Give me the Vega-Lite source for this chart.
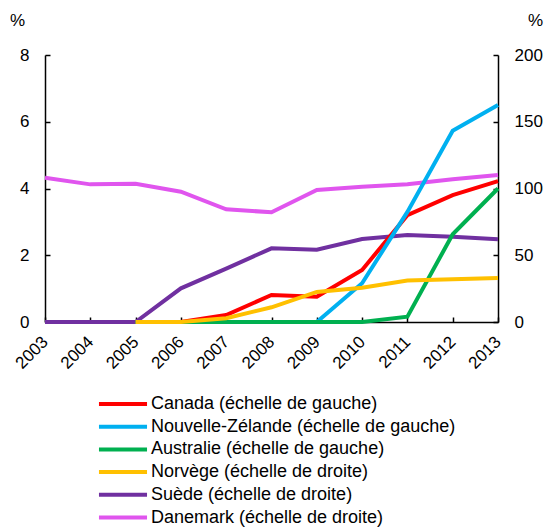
{
  "$schema": "https://vega.github.io/schema/vega-lite/v6.json",
  "width": 453,
  "height": 267,
  "autosize": "none",
  "padding": {"left": 45, "top": 55, "right": 48, "bottom": 205},
  "background": "white",
  "config": {
    "font": "Liberation Sans",
    "view": {"stroke": null},
    "axis": {
      "grid": false,
      "domainColor": "black",
      "domainWidth": 1.5,
      "tickColor": "black",
      "tickWidth": 1.5,
      "tickSize": -5,
      "labelColor": "black",
      "labelFontSize": 17,
      "labelFont": "Liberation Sans",
      "titleFont": "Liberation Sans",
      "titleFontSize": 17,
      "titleFontWeight": "normal",
      "titleColor": "black"
    },
    "legend": {
      "labelFont": "Liberation Sans",
      "labelFontSize": 18,
      "labelColor": "black",
      "labelLimit": 500
    }
  },
  "data": {
    "values": [
      {"year": "2005", "series": "Canada (échelle de gauche)", "side": "left", "value": 0},
      {"year": "2006", "series": "Canada (échelle de gauche)", "side": "left", "value": 0},
      {"year": "2007", "series": "Canada (échelle de gauche)", "side": "left", "value": 0.21},
      {"year": "2008", "series": "Canada (échelle de gauche)", "side": "left", "value": 0.81},
      {"year": "2009", "series": "Canada (échelle de gauche)", "side": "left", "value": 0.76},
      {"year": "2010", "series": "Canada (échelle de gauche)", "side": "left", "value": 1.56},
      {"year": "2011", "series": "Canada (échelle de gauche)", "side": "left", "value": 3.2},
      {"year": "2012", "series": "Canada (échelle de gauche)", "side": "left", "value": 3.8},
      {"year": "2013", "series": "Canada (échelle de gauche)", "side": "left", "value": 4.22},

      {"year": "2005", "series": "Nouvelle-Zélande (échelle de gauche)", "side": "left", "value": 0},
      {"year": "2006", "series": "Nouvelle-Zélande (échelle de gauche)", "side": "left", "value": 0},
      {"year": "2007", "series": "Nouvelle-Zélande (échelle de gauche)", "side": "left", "value": 0},
      {"year": "2008", "series": "Nouvelle-Zélande (échelle de gauche)", "side": "left", "value": 0},
      {"year": "2009", "series": "Nouvelle-Zélande (échelle de gauche)", "side": "left", "value": 0},
      {"year": "2010", "series": "Nouvelle-Zélande (échelle de gauche)", "side": "left", "value": 1.16},
      {"year": "2011", "series": "Nouvelle-Zélande (échelle de gauche)", "side": "left", "value": 3.3},
      {"year": "2012", "series": "Nouvelle-Zélande (échelle de gauche)", "side": "left", "value": 5.73},
      {"year": "2013", "series": "Nouvelle-Zélande (échelle de gauche)", "side": "left", "value": 6.5},

      {"year": "2005", "series": "Australie (échelle de gauche)", "side": "left", "value": 0},
      {"year": "2006", "series": "Australie (échelle de gauche)", "side": "left", "value": 0},
      {"year": "2007", "series": "Australie (échelle de gauche)", "side": "left", "value": 0},
      {"year": "2008", "series": "Australie (échelle de gauche)", "side": "left", "value": 0},
      {"year": "2009", "series": "Australie (échelle de gauche)", "side": "left", "value": 0},
      {"year": "2010", "series": "Australie (échelle de gauche)", "side": "left", "value": 0},
      {"year": "2011", "series": "Australie (échelle de gauche)", "side": "left", "value": 0.16},
      {"year": "2012", "series": "Australie (échelle de gauche)", "side": "left", "value": 2.63},
      {"year": "2013", "series": "Australie (échelle de gauche)", "side": "left", "value": 4.0},

      {"year": "2005", "series": "Norvège (échelle de droite)", "side": "right", "value": 0},
      {"year": "2006", "series": "Norvège (échelle de droite)", "side": "right", "value": 0},
      {"year": "2007", "series": "Norvège (échelle de droite)", "side": "right", "value": 2.8},
      {"year": "2008", "series": "Norvège (échelle de droite)", "side": "right", "value": 11},
      {"year": "2009", "series": "Norvège (échelle de droite)", "side": "right", "value": 22.5},
      {"year": "2010", "series": "Norvège (échelle de droite)", "side": "right", "value": 25.7},
      {"year": "2011", "series": "Norvège (échelle de droite)", "side": "right", "value": 31},
      {"year": "2012", "series": "Norvège (échelle de droite)", "side": "right", "value": 32},
      {"year": "2013", "series": "Norvège (échelle de droite)", "side": "right", "value": 33},

      {"year": "2003", "series": "Suède (échelle de droite)", "side": "right", "value": 0},
      {"year": "2004", "series": "Suède (échelle de droite)", "side": "right", "value": 0},
      {"year": "2005", "series": "Suède (échelle de droite)", "side": "right", "value": 0},
      {"year": "2006", "series": "Suède (échelle de droite)", "side": "right", "value": 25.2},
      {"year": "2007", "series": "Suède (échelle de droite)", "side": "right", "value": 40},
      {"year": "2008", "series": "Suède (échelle de droite)", "side": "right", "value": 55.2},
      {"year": "2009", "series": "Suède (échelle de droite)", "side": "right", "value": 54.2},
      {"year": "2010", "series": "Suède (échelle de droite)", "side": "right", "value": 62.2},
      {"year": "2011", "series": "Suède (échelle de droite)", "side": "right", "value": 65.2},
      {"year": "2012", "series": "Suède (échelle de droite)", "side": "right", "value": 63.9},
      {"year": "2013", "series": "Suède (échelle de droite)", "side": "right", "value": 62},

      {"year": "2003", "series": "Danemark (échelle de droite)", "side": "right", "value": 108.1},
      {"year": "2004", "series": "Danemark (échelle de droite)", "side": "right", "value": 103.1},
      {"year": "2005", "series": "Danemark (échelle de droite)", "side": "right", "value": 103.6},
      {"year": "2006", "series": "Danemark (échelle de droite)", "side": "right", "value": 97.6},
      {"year": "2007", "series": "Danemark (échelle de droite)", "side": "right", "value": 84.4},
      {"year": "2008", "series": "Danemark (échelle de droite)", "side": "right", "value": 82.2},
      {"year": "2009", "series": "Danemark (échelle de droite)", "side": "right", "value": 98.9},
      {"year": "2010", "series": "Danemark (échelle de droite)", "side": "right", "value": 101.4},
      {"year": "2011", "series": "Danemark (échelle de droite)", "side": "right", "value": 103.1},
      {"year": "2012", "series": "Danemark (échelle de droite)", "side": "right", "value": 106.9},
      {"year": "2013", "series": "Danemark (échelle de droite)", "side": "right", "value": 110.1}
    ]
  },
  "encoding": {
    "x": {
      "field": "year",
      "type": "ordinal",
      "scale": {"type": "point", "padding": 0},
      "axis": {
        "title": null,
        "labelAngle": -45,
        "labelAlign": "right",
        "labelBaseline": "middle",
        "labelPadding": 22
      }
    },
    "color": {
      "field": "series",
      "type": "nominal",
      "scale": {
        "domain": [
          "Canada (échelle de gauche)",
          "Nouvelle-Zélande (échelle de gauche)",
          "Australie (échelle de gauche)",
          "Norvège (échelle de droite)",
          "Suède (échelle de droite)",
          "Danemark (échelle de droite)"
        ],
        "range": ["#FF0000", "#00B0F0", "#00B050", "#FFC000", "#7030A0", "#E055EE"]
      },
      "legend": {
        "title": null,
        "orient": "none",
        "legendX": 67,
        "legendY": 338,
        "padding": 0,
        "symbolType": "M-2.67,0H2.67",
        "symbolSize": 324,
        "symbolStrokeWidth": 4,
        "labelOffset": 17,
        "rowPadding": 2.7
      }
    }
  },
  "layer": [
    {
      "transform": [{"filter": "datum.series === 'Suède (échelle de droite)' || datum.series === 'Danemark (échelle de droite)'"}],
      "mark": {"type": "line", "strokeWidth": 4},
      "encoding": {
        "y": {
          "field": "value",
          "type": "quantitative",
          "scale": {"domain": [0, 200]},
          "axis": {
            "orient": "right",
            "values": [0, 50, 100, 150, 200],
            "title": "%",
            "titleAngle": 0,
            "titleX": 37,
            "titleY": -35,
            "titleAlign": "center",
            "titleBaseline": "middle",
            "labelPadding": 21
          }
        }
      }
    },
    {
      "transform": [{"filter": "datum.side === 'left'"}],
      "mark": {"type": "line", "strokeWidth": 4},
      "encoding": {
        "y": {
          "field": "value",
          "type": "quantitative",
          "scale": {"domain": [0, 8]},
          "axis": {
            "orient": "left",
            "values": [0, 2, 4, 6, 8],
            "title": "%",
            "titleAngle": 0,
            "titleX": -28,
            "titleY": -35,
            "titleAlign": "center",
            "titleBaseline": "middle",
            "labelPadding": 21
          }
        }
      }
    },
    {
      "transform": [{"filter": "datum.series === 'Norvège (échelle de droite)'"}],
      "mark": {"type": "line", "strokeWidth": 4},
      "encoding": {
        "y": {
          "field": "value",
          "type": "quantitative",
          "scale": {"domain": [0, 200]},
          "axis": null
        }
      }
    }
  ],
  "resolve": {"scale": {"y": "independent"}}
}
